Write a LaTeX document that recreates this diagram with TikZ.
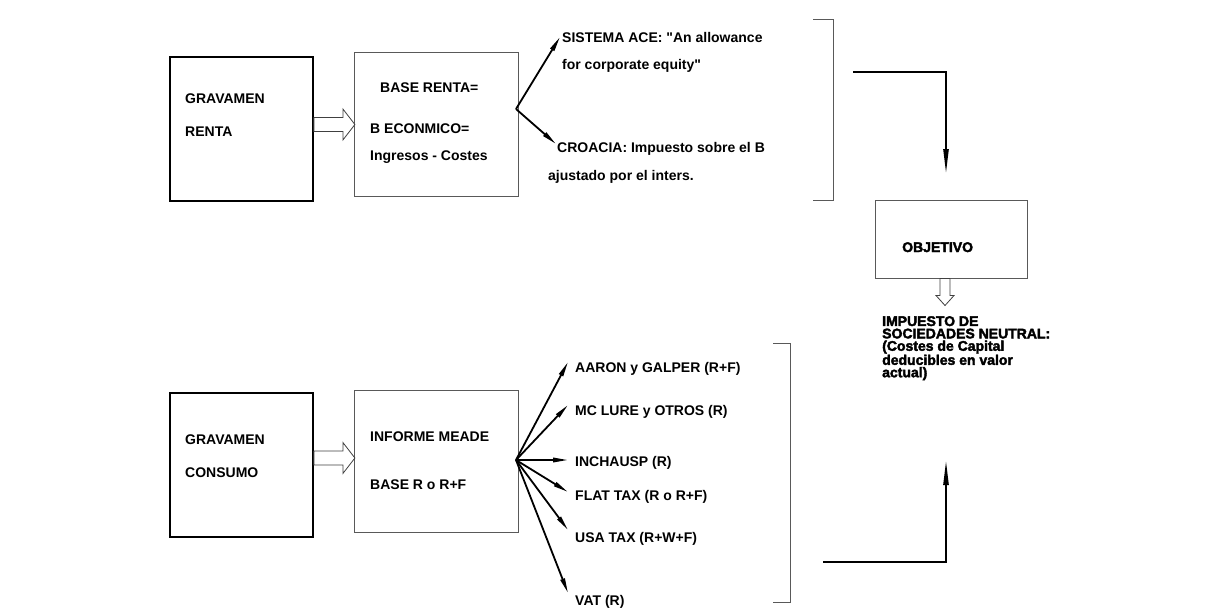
\documentclass[tikz,border=0pt]{standalone}
\usepackage{fontspec}
\setmainfont{Liberation Sans}[Ligatures=TeXOff]
\newfontfamily\heavyfont{Liberation Sans}[Ligatures=TeXOff,BoldFeatures={FakeBold=2.6}]
\usetikzlibrary{arrows.meta,positioning,calc}
\tikzset{
  bigbox/.style={draw=black,line width=1.8pt,minimum width=143pt,minimum height=144pt,inner sep=0pt},
  thinbox/.style={draw=black!65,line width=1pt,inner sep=0pt},
  txt/.style={anchor=base west,inner sep=0pt,font=\fontsize{14}{14}\selectfont\bfseries},
  heavy/.style={anchor=base west,inner sep=0pt,align=left,
                font=\fontsize{14}{12.4}\selectfont\heavyfont\bfseries},
  fan/.style={-{Triangle[length=15pt,width=4.5pt]},line width=1.8pt},
  elbow/.style={-{Triangle[length=26pt,width=5pt]},line width=2.4pt},
  hollow/.style={draw=black!75,line width=0.8pt,fill=white},
  brk/.style={draw=black!65,line width=1pt}
}

\begin{document}
\begin{tikzpicture}[x=1pt,y=-1pt]
  \useasboundingbox (0,0) rectangle (1206,610);
  % boxes
  \node[bigbox] (renta) at (241.5,129) {};
  \node[thinbox,minimum width=164pt,minimum height=143pt] (base) at (436,124.5) {};
  \node[bigbox] (consumo) at (241.5,465) {};
  \node[thinbox,minimum width=164pt,minimum height=142pt] (meade) at (436,461) {};
  \node[thinbox,minimum width=152pt,minimum height=78pt] (obj) at (951,239) {};
  % box texts
  \node[txt] (t1) at (185,103) {GRAVAMEN};
  \node[txt] (t2) at (185,136) {RENTA};
  \node[txt] (t3) at (380,92) {BASE RENTA=};
  \node[txt] (t4) at (370,133) {B ECONMICO=};
  \node[txt] (t5) at (370,160) {Ingresos - Costes};
  \node[txt] (t6) at (185,444) {GRAVAMEN};
  \node[txt] (t7) at (185,477) {CONSUMO};
  \node[txt] (t8) at (370,441) {INFORME MEADE};
  \node[txt] (t9) at (370,489) {BASE R o R+F};
  \node[heavy] (t10) at (902,252) {OBJETIVO};
  \node[heavy,anchor=north west] (neutral) at (882,316)
       {IMPUESTO DE\\SOCIEDADES NEUTRAL:\\(Costes de Capital\\deducibles en valor\\actual)};
  % hollow arrows
  \draw[hollow] ($(renta.east)+(0,-11.5)$) -- ++(29,0) -- ++(0,-8.5) -- ++(12,15.5)
       -- ++(-12,15.5) -- ++(0,-8.5) -- ++(-29,0) -- cycle;
  \draw[hollow] ($(consumo.east)+(0,-14)$) -- ++(29,0) -- ++(0,-8.5) -- ++(12,15.5)
       -- ++(-12,15.5) -- ++(0,-8.5) -- ++(-29,0) -- cycle;
  \draw[hollow] ($(obj.south)+(-11,0)$) -- ++(0,17) -- ++(-4,0) -- ++(9,10)
       -- ++(9,-10) -- ++(-4,0) -- ++(0,-17) -- cycle;
  % upper fan
  \coordinate (fork1) at (516,109);
  \node[txt] (ace1) at (562,43) {SISTEMA ACE: "An allowance};
  \node[txt] (ace2) at (562,69) {for corporate equity"};
  \node[txt] (cro1) at (557,152) {CROACIA: Impuesto sobre el B};
  \node[txt] (cro2) at (548,180) {ajustado por el inters.};
  \coordinate (tipace) at (560,37);
  \coordinate (tipcro) at (556,144);
  \draw[fan] (fork1) -- (tipace);
  \draw[fan] (fork1) -- (tipcro);
  % lower fan
  \coordinate (fork2) at (516,460);
  \foreach \name/\ty/\ly/\lab in {aaron/362/372/{AARON y GALPER (R+F)},
                                  mclure/405/415/{MC LURE y OTROS (R)},
                                  inch/460/466/{INCHAUSP (R)},
                                  flat/492/500/{FLAT TAX (R o R+F)},
                                  usa/530/542/{USA TAX (R+W+F)},
                                  vat/593/605/{VAT (R)}}{
    \node[txt] (\name) at (575,\ly) {\lab};
    \coordinate (tip\name) at (568,\ty);
    \draw[fan] (fork2) -- (tip\name);
  }
  % brackets
  \draw[brk] (813,20) -- (833,20) -- (833,200) -- (813,200);
  \draw[brk] (773,343) -- (790,343) -- (790,602) -- (773,602);
  % elbow arrows to objetivo
  \coordinate (e1s) at (853,72);
  \coordinate (e1t) at (946,175);
  \coordinate (e2s) at (823,562);
  \coordinate (e2t) at (946,459);
  \draw[elbow] (e1s) -| (e1t);
  \draw[elbow] (e2s) -| (e2t);
\end{tikzpicture}
\end{document}
